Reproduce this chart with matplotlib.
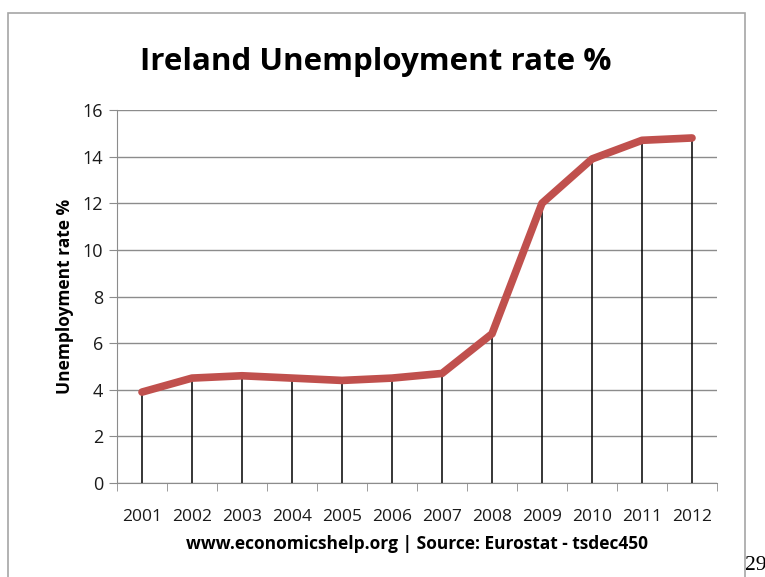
import numpy as np
import matplotlib.pyplot as plt
from matplotlib.patches import Rectangle

years = ['2001', '2002', '2003', '2004', '2005', '2006',
         '2007', '2008', '2009', '2010', '2011', '2012']
rate = [3.9, 4.5, 4.6, 4.5, 4.4, 4.5, 4.7, 6.4, 12.0, 13.9, 14.7, 14.8]
yticks = [0, 2, 4, 6, 8, 10, 12, 14, 16]

plt.rcParams['font.family'] = ['Open Sans', 'DejaVu Sans']

fig = plt.figure(figsize=(7.65, 5.77), dpi=100)
# outer chart frame
fig.patches.append(Rectangle((8 / 765, -0.01), (745 - 8) / 765, 1 - 13 / 577 + 0.01,
                             transform=fig.transFigure, fill=False,
                             edgecolor='#a6a6a6', lw=1.2))

ax = fig.add_axes([117 / 765, 1 - 483 / 577, 600 / 765, 373 / 577])
x = np.arange(len(years))

ax.vlines(x, 0, rate, color='black', lw=1.1, zorder=2)
ax.plot(x, rate, color='#c0504d', lw=5.5, solid_capstyle='round',
        solid_joinstyle='round', zorder=3)

ax.set_xlim(-0.5, len(years) - 0.5)
ax.set_ylim(0, 16)
ax.set_yticks(yticks)
ax.yaxis.grid(True, color='#8c8c8c', lw=1)
ax.set_axisbelow(True)

ax.set_xticks(x)
ax.set_xticklabels(years, fontsize=12.5, color='#1a1a1a')
ax.set_xticks(np.arange(-0.5, len(years)), minor=True)
ax.tick_params(axis='x', which='major', length=0, pad=19)
ax.tick_params(axis='x', which='minor', length=6, color='#8c8c8c', direction='out')
ax.tick_params(axis='y', length=6, color='#8c8c8c', labelsize=13, pad=4,
               labelcolor='#1a1a1a')

for s in ['top', 'right']:
    ax.spines[s].set_visible(False)
ax.spines['left'].set_color('#8c8c8c')
ax.spines['bottom'].set_color('#8c8c8c')

ax.set_ylabel('Unemployment rate %', fontsize=12.5, fontweight='bold', labelpad=6)
ax.set_xlabel('www.economicshelp.org | Source: Eurostat - tsdec450',
              fontsize=12.5, fontweight='bold', labelpad=7)

fig.text(376 / 765, 1 - 62 / 577, 'Ireland Unemployment rate %', ha='center',
         va='center', fontsize=22.5, fontweight='bold')
fig.text(745 / 765, 1 - 566 / 577, '29', ha='left', va='center', fontsize=15.5,
         family='Liberation Serif')

fig.savefig('out.png', dpi=100)
